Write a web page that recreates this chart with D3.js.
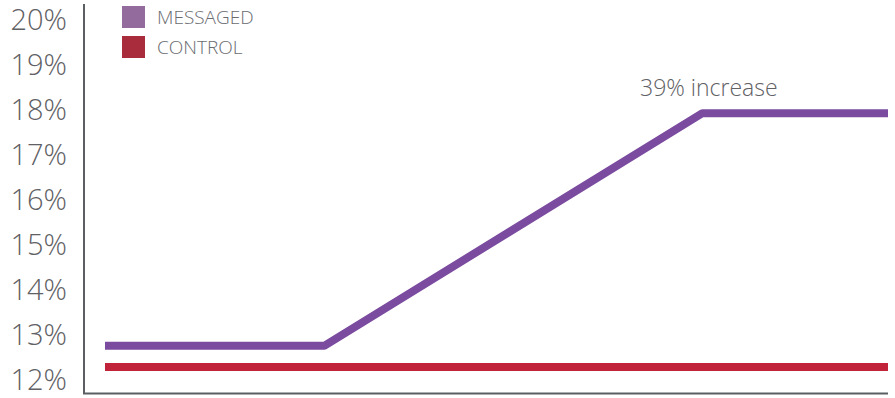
<!DOCTYPE html>
<html>
<head>
<meta charset="utf-8">
<script src="https://cdn.jsdelivr.net/npm/d3@7"></script>
<style>
  body { margin: 0; background: #fff; }
  text { font-family: "Open Sans", "Noto Sans", sans-serif; }
</style>
</head>
<body>
<script>
// values
const steps = [0, 28, 76.3, 100];
const messaged = [12.76, 12.76, 17.93, 17.93];
const control = [12.29, 12.29, 12.29, 12.29];
const yTicks = [12, 13, 14, 15, 16, 17, 18, 19, 20];
const seriesNames = ['MESSAGED', 'CONTROL'];
const annotation = '39% increase';

(function init() {
  const width = 895;
  const height = 398;

  const svg = d3.select('body')
    .append('svg')
    .attr('width', width)
    .attr('height', height);

  const x = d3.scaleLinear().domain([0, 100]).range([105, 888]);
  const y = d3.scaleLinear().domain([12, 20]).range([380, 20]);

  // axes
  svg.append('line')
    .attr('x1', 84).attr('x2', 84)
    .attr('y1', 4).attr('y2', 394)
    .attr('stroke', '#5b5e62').attr('stroke-width', 2);
  svg.append('line')
    .attr('x1', 83).attr('x2', 888)
    .attr('y1', 393.5).attr('y2', 393.5)
    .attr('stroke', '#5b5e62').attr('stroke-width', 2);

  svg.append('g')
    .selectAll('text')
    .data(yTicks)
    .enter()
    .append('text')
    .attr('x', 67)
    .attr('y', d => y(d))
    .attr('dy', '0.36em')
    .attr('text-anchor', 'end')
    .attr('font-size', 29)
    .attr('font-weight', 300)
    .attr('fill', '#5f6165')
    .text(d => d + '%');

  const line = d3.line()
    .x((d, i) => x(steps[i]))
    .y(d => y(d));

  svg.append('path')
    .datum(control)
    .attr('d', line)
    .attr('fill', 'none')
    .attr('stroke', '#c0233a')
    .attr('stroke-width', 8);

  svg.append('path')
    .datum(messaged)
    .attr('d', line)
    .attr('fill', 'none')
    .attr('stroke', '#7b4b9f')
    .attr('stroke-width', 8)
    .attr('stroke-linejoin', 'bevel');

  svg.append('text')
    .attr('x', 640)
    .attr('y', 96)
    .attr('font-size', 23)
    .attr('font-weight', 300)
    .attr('fill', '#5f6165')
    .text(annotation);

  // legend
  const legendColors = ['#936c9d', '#a92c3d'];
  const legend = svg.append('g')
    .selectAll('g')
    .data(seriesNames)
    .enter()
    .append('g')
    .attr('transform', (d, i) => `translate(122,${6 + i * 30})`);
  legend.append('rect')
    .attr('width', 23).attr('height', 22)
    .attr('fill', (d, i) => legendColors[i]);
  legend.append('text')
    .attr('x', 35)
    .attr('y', 11)
    .attr('dy', '0.36em')
    .attr('font-size', 19)
    .attr('font-weight', 300)
    .attr('fill', '#6a6c70')
    .text(d => d);
}());
</script>
</body>
</html>
